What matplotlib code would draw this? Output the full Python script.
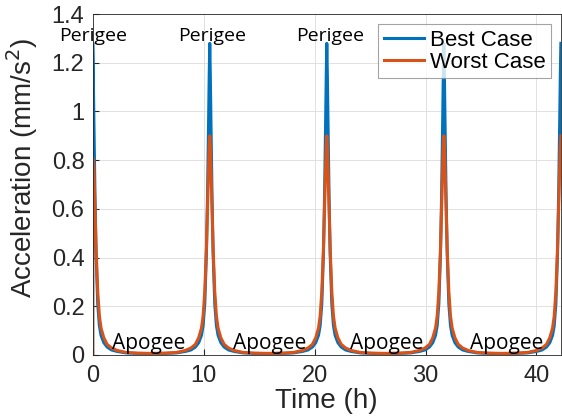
"""
Orbit-averaged acceleration: best vs worst case over ~4 orbits.
"""
import numpy as np
import matplotlib.pyplot as plt
from matplotlib.ticker import FuncFormatter

# perigee passes (h)
perigee_t = [0.0, 10.55, 21.1, 31.65, 42.2]

# one half-orbit profile, hours from perigee -> acceleration (mm/s^2)
offset_h = [0.0, 0.05, 0.1, 0.2, 0.3, 0.45, 0.6, 0.75, 1.0, 1.3, 1.7, 2.2, 3.0, 4.0, 5.275]
worst_prof = [0.90, 0.86, 0.78, 0.61, 0.44, 0.26, 0.16, 0.11, 0.07, 0.043, 0.028, 0.018, 0.010, 0.007, 0.006]
best_prof = [1.28, 1.15, 0.98, 0.66, 0.42, 0.21, 0.12, 0.08, 0.05, 0.032, 0.02, 0.014, 0.008, 0.006, 0.005]

# first sample at t=0 is different (series starts from zero)
first_worst = 0.81
first_best = 1.28

x_ticks = [0, 10, 20, 30, 40]
y_ticks = [0, 0.2, 0.4, 0.6, 0.8, 1.0, 1.2, 1.4]

perigee_lbl_t = [0.0, 10.8, 21.4]
apogee_lbl_t = [5.05, 15.95, 26.5, 37.3]


def build_series(prof, first_peak):
    off = np.array(offset_h)
    p = np.array(prof)
    # first pass: starts at zero, jumps to first_peak, then decays
    keep = p < first_peak
    t = [0.0, 0.0] + list(off[keep])
    v = [0.0, first_peak] + list(p[keep])
    for tp in perigee_t[1:]:
        t += list(tp - off[::-1][1:])
        v += list(p[::-1][1:])
        if tp < perigee_t[-1]:
            t += list(tp + off[1:])
            v += list(p[1:])
    return np.array(t), np.array(v)


t_b, a_b = build_series(best_prof, first_best + 0.001)
t_w, a_w = build_series(worst_prof, first_worst)

plt.rcParams['font.family'] = ['Liberation Sans', 'DejaVu Sans']
INK = '#262626'

fig = plt.figure(figsize=(5.62, 4.16), dpi=100)
ax = fig.add_axes([0.165, 0.147, 0.833, 0.819])

ax.plot(t_b, a_b, color='#0072BD', lw=2.2, label='Best Case')
ax.plot(t_w, a_w, color='#D95319', lw=2.2, label='Worst Case')

for tx in perigee_lbl_t:
    ax.text(tx, 1.31, 'Perigee', ha='center', va='center', fontsize=14,
            family=['Open Sans', 'DejaVu Sans'])
for tx in apogee_lbl_t:
    ax.text(tx, 0.045, 'Apogee', ha='center', va='center', fontsize=15,
            family=['Open Sans', 'DejaVu Sans'])

ax.set_xlim(0, 42.2)
ax.set_ylim(0, 1.4)
ax.set_xticks(x_ticks)
ax.set_yticks(y_ticks)
ax.yaxis.set_major_formatter(FuncFormatter(lambda v, _: f'{v:g}'))
ax.tick_params(direction='in', length=4, labelsize=17, colors=INK)
ax.tick_params(axis='x', pad=7)
ax.tick_params(axis='y', pad=6)
ax.grid(True, color='#dcdcdc', lw=0.6)
for s in ax.spines.values():
    s.set_color(INK)
    s.set_linewidth(0.6)

ax.set_xlabel('Time (h)', fontsize=20, color=INK, labelpad=1)
ax.set_ylabel('Acceleration (mm/s$^2$)', fontsize=20, color=INK)
ax.yaxis.set_label_coords(-0.112, 0.55)

leg = ax.legend(loc='upper right', fontsize=16, frameon=True, fancybox=False,
                borderaxespad=0.45, handlelength=1.8, handletextpad=0.25,
                borderpad=0.25, labelspacing=0.05)
leg.get_frame().set_edgecolor('#8c8c8c')
leg.get_frame().set_linewidth(0.8)

plt.savefig('out.png', dpi=100, facecolor='white')
